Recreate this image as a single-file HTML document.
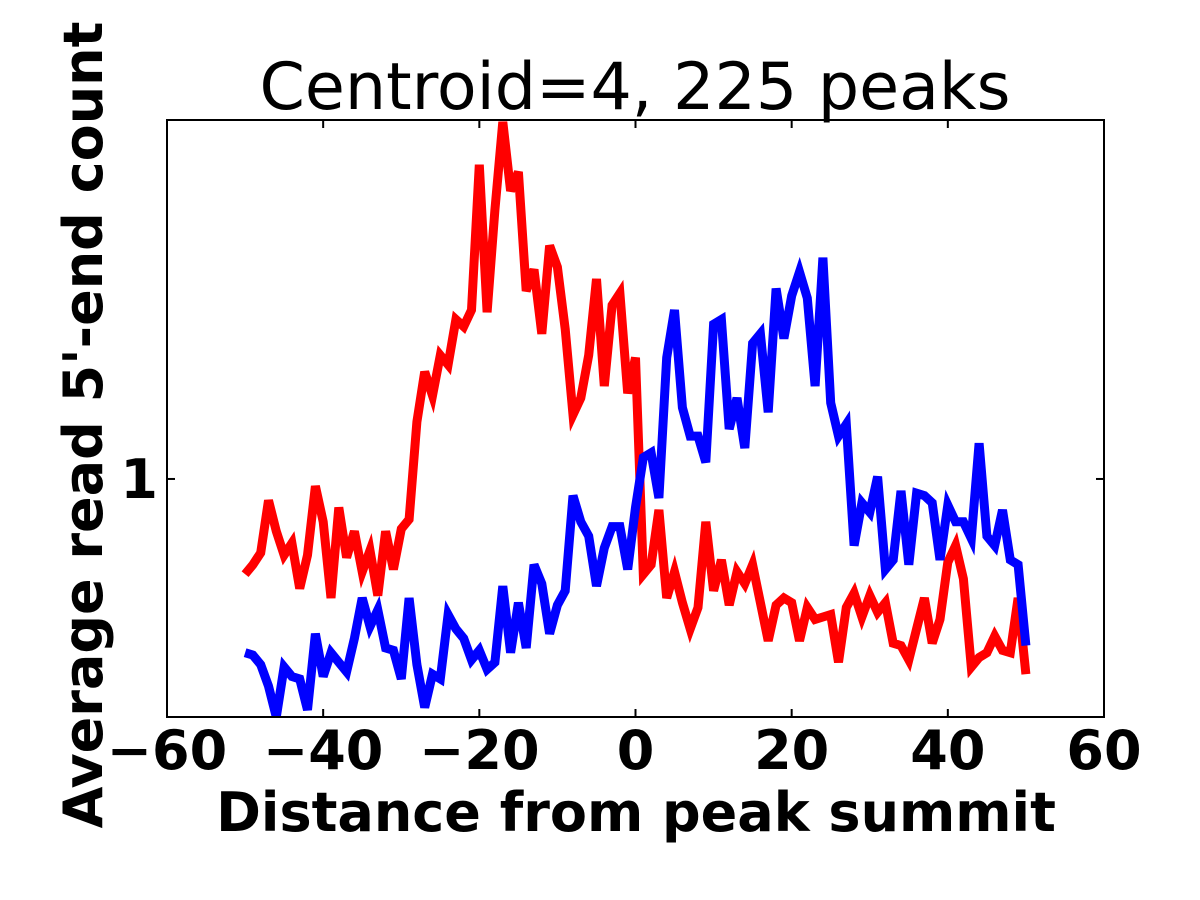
<!DOCTYPE html>
<html><head><meta charset="utf-8"><style>
html,body{margin:0;padding:0;background:#fff;}
svg{display:block;}
</style></head><body>
<svg id="chart" width="1200" height="900" xmlns="http://www.w3.org/2000/svg" font-family="'DejaVu Sans','Liberation Sans',sans-serif">
  <defs><clipPath id="clip"><rect x="167" y="120" width="937" height="597"/></clipPath></defs>
  <rect x="0" y="0" width="1200" height="900" fill="#fff"/>
  <text x="635" y="109" font-size="65" text-anchor="middle">Centroid=4, 225 peaks</text>
  <g id="series" clip-path="url(#clip)"></g>
  <rect x="167" y="120" width="937" height="597" fill="none" stroke="#000" stroke-width="2"/>
  <g id="axes"></g>
  <text x="636" y="831" font-size="54" font-weight="bold" text-anchor="middle">Distance from peak summit</text>
  <text transform="translate(102,425) rotate(-90)" font-size="54" font-weight="bold" text-anchor="middle">Average read 5'-end count</text>
</svg>
<script>
const xValues = [];
for (let i = -50; i <= 50; i++) xValues.push(i);
const redSeries = [0.60,0.64,0.69,0.91,0.78,0.68,0.73,0.54,0.68,0.97,0.82,0.50,0.88,0.67,0.78,0.61,0.70,0.51,0.78,0.62,0.79,0.83,1.24,1.45,1.35,1.52,1.48,1.67,1.64,1.71,2.32,1.70,2.13,2.50,2.21,2.29,1.79,1.88,1.61,1.98,1.89,1.63,1.27,1.34,1.52,1.84,1.39,1.73,1.78,1.36,1.51,
0.60,0.64,0.87,0.50,0.61,0.48,0.37,0.46,0.82,0.53,0.66,0.47,0.61,0.56,0.64,0.48,0.32,0.47,0.50,0.48,0.32,0.46,0.41,0.42,0.43,0.23,0.46,0.52,0.42,0.51,0.44,0.48,0.31,0.30,0.24,0.37,0.50,0.31,0.41,0.65,0.72,0.58,0.21,0.25,0.27,0.34,0.28,0.27,0.50,0.18];
const blueSeries = [0.27,0.26,0.22,0.13,0.00,0.21,0.17,0.16,0.03,0.35,0.17,0.27,0.23,0.19,0.33,0.50,0.38,0.45,0.29,0.28,0.16,0.50,0.22,0.04,0.18,0.16,0.43,0.37,0.33,0.24,0.28,0.20,0.23,0.55,0.27,0.48,0.29,0.64,0.56,0.35,0.47,0.53,0.93,0.82,0.76,0.55,0.71,0.80,0.80,0.62,0.88,
1.09,1.11,0.92,1.51,1.71,1.30,1.18,1.18,1.07,1.65,1.67,1.21,1.34,1.13,1.57,1.61,1.28,1.80,1.59,1.77,1.87,1.76,1.39,1.93,1.32,1.18,1.23,0.72,0.90,0.86,1.01,0.62,0.66,0.95,0.64,0.94,0.93,0.90,0.66,0.89,0.82,0.82,0.75,1.15,0.76,0.72,0.87,0.66,0.64,0.30];
const xTicks = [-60,-40,-20,0,20,40,60];
const xTickLabels = ["\u221260","\u221240","\u221220","0","20","40","60"];
const yTicks = [1];
const yTickLabels = ["1"];

const X0=167,X1=1104,Y0=717,Y1=120;
const xMin=-60,xMax=60,yMin=0,yMax=2.508;
const sx = v => X0 + (v-xMin)/(xMax-xMin)*(X1-X0);
const sy = v => Y0 - (v-yMin)/(yMax-yMin)*(Y0-Y1);
const NS="http://www.w3.org/2000/svg";
const series = document.getElementById('series');
const axes = document.getElementById('axes');

function drawLine(vals, color, name){
  const p = document.createElementNS(NS,'polyline');
  p.setAttribute('points', vals.map((v,i)=>sx(xValues[i]).toFixed(1)+','+sy(v).toFixed(1)).join(' '));
  p.setAttribute('fill','none');
  p.setAttribute('stroke',color);
  p.setAttribute('stroke-width','9');
  p.setAttribute('stroke-linejoin','miter');
  
  
  series.appendChild(p);
}
drawLine(redSeries,'#ff0000','red-series-line');
drawLine(blueSeries,'#0000ff','blue-series-line');

xTicks.forEach((t,i)=>{
  const x = sx(t);
  if (t>xMin && t<xMax){
    [[Y0,Y0-8],[Y1,Y1+8]].forEach(([a,b])=>{
      const l=document.createElementNS(NS,'line');
      l.setAttribute('x1',x);l.setAttribute('x2',x);l.setAttribute('y1',a);l.setAttribute('y2',b);
      l.setAttribute('stroke','#000');l.setAttribute('stroke-width','2');
      
      
      axes.appendChild(l);
    });
  }
  const tx=document.createElementNS(NS,'text');
  tx.setAttribute('x',x);tx.setAttribute('y',769);
  tx.setAttribute('font-size','54');tx.setAttribute('font-weight','bold');tx.setAttribute('text-anchor','middle');
  tx.textContent=xTickLabels[i];
  
  
  axes.appendChild(tx);
});
yTicks.forEach((t,i)=>{
  const y=sy(t);
  [[X0,X0+8],[X1,X1-8]].forEach(([a,b])=>{
    const l=document.createElementNS(NS,'line');
    l.setAttribute('x1',a);l.setAttribute('x2',b);l.setAttribute('y1',y);l.setAttribute('y2',y);
    l.setAttribute('stroke','#000');l.setAttribute('stroke-width','2');
    
    
    axes.appendChild(l);
  });
  const tx=document.createElementNS(NS,'text');
  tx.setAttribute('x',158);tx.setAttribute('y',y+19);
  tx.setAttribute('font-size','54');tx.setAttribute('font-weight','bold');tx.setAttribute('text-anchor','end');
  tx.textContent=yTickLabels[i];
  
  
  axes.appendChild(tx);
});
</script>
</body></html>
